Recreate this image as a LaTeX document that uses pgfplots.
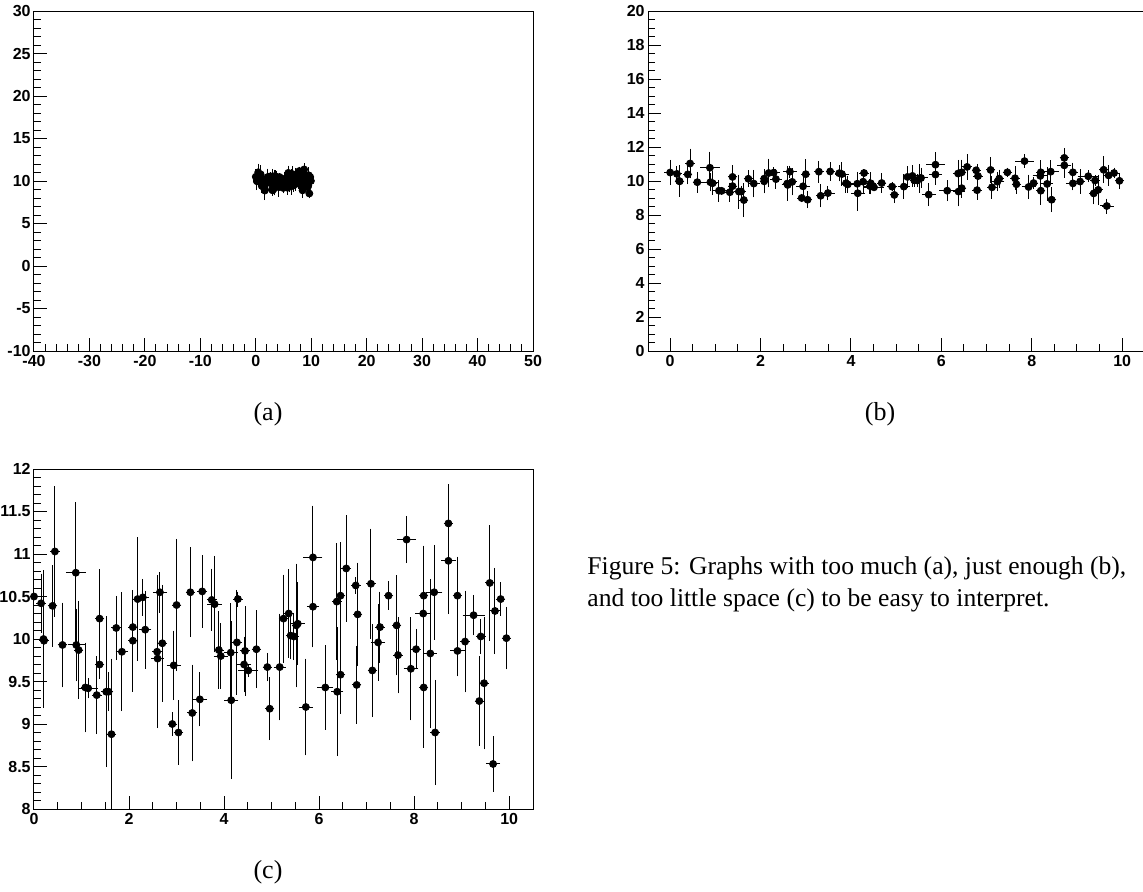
\documentclass[border=0pt]{standalone}
\usepackage{fontspec}
\setmainfont{Liberation Serif}
\setsansfont{Liberation Sans}
\usepackage{pgfplots}
\usepackage{pgfplotstable}
\pgfplotsset{compat=1.18}

\pgfplotstableread{
x y ex ey
0.00 10.50 0.08 0.60
0.15 10.42 0.05 0.32
0.20 10.00 0.05 0.78
0.21 9.98 0.05 0.30
0.39 10.39 0.05 0.45
0.44 11.03 0.05 0.74
0.60 9.93 0.05 0.47
0.88 10.78 0.16 0.80
0.89 9.93 0.13 0.40
0.94 9.87 0.05 0.55
1.08 9.43 0.05 0.50
1.14 9.42 0.15 0.09
1.32 9.34 0.05 0.43
1.38 10.24 0.05 0.55
1.38 9.70 0.05 0.14
1.52 9.38 0.05 0.86
1.57 9.38 0.05 0.20
1.63 8.88 0.05 0.86
1.73 10.13 0.05 0.35
1.85 9.85 0.08 0.67
2.08 10.14 0.05 0.38
2.08 9.98 0.05 0.57
2.18 10.47 0.05 0.70
2.29 10.49 0.08 0.19
2.34 10.11 0.08 0.43
2.59 9.85 0.05 0.87
2.60 9.77 0.08 0.05
2.65 10.55 0.10 0.21
2.70 9.95 0.05 0.66
2.91 9.00 0.05 0.11
2.94 9.69 0.10 0.38
3.00 10.40 0.05 0.75
3.04 8.90 0.05 0.35
3.29 10.55 0.05 0.50
3.33 9.13 0.05 0.54
3.49 9.29 0.10 0.29
3.54 10.56 0.05 0.40
3.74 10.46 0.05 0.34
3.80 10.41 0.10 0.54
3.89 9.87 0.05 0.43
3.93 9.80 0.10 0.36
4.14 9.84 0.10 0.55
4.15 9.28 0.10 0.90
4.27 9.96 0.05 0.59
4.29 10.47 0.05 0.06
4.42 9.70 0.10 0.30
4.44 9.86 0.05 0.50
4.51 9.63 0.16 0.05
4.68 9.88 0.05 0.43
4.91 9.67 0.05 0.14
4.96 9.18 0.05 0.34
5.17 9.67 0.08 0.60
5.25 10.24 0.05 0.49
5.36 10.30 0.05 0.49
5.40 10.04 0.05 0.25
5.47 10.03 0.05 0.25
5.52 10.16 0.05 0.70
5.55 10.18 0.10 0.46
5.72 9.20 0.10 0.54
5.87 10.96 0.15 0.58
5.87 10.38 0.08 0.45
6.13 9.43 0.12 0.47
6.37 10.44 0.05 0.66
6.38 9.38 0.08 0.73
6.45 10.51 0.05 0.60
6.45 9.58 0.05 0.43
6.57 10.83 0.05 0.60
6.77 10.63 0.05 0.07
6.81 10.29 0.05 0.58
6.79 9.46 0.05 0.43
7.09 10.65 0.05 0.62
7.12 9.63 0.05 0.52
7.24 9.96 0.10 0.42
7.28 10.14 0.05 0.39
7.46 10.51 0.05 0.14
7.63 10.16 0.05 0.56
7.66 9.81 0.05 0.42
7.84 11.17 0.15 0.25
7.93 9.65 0.10 0.58
8.04 9.88 0.05 0.21
8.19 10.30 0.12 0.05
8.20 10.51 0.05 0.56
8.20 9.43 0.05 0.68
8.34 9.83 0.08 0.85
8.42 10.55 0.12 0.53
8.44 8.90 0.05 0.59
8.72 11.36 0.05 0.43
8.72 10.92 0.10 0.60
8.91 10.51 0.05 0.43
8.91 9.86 0.10 0.27
9.07 9.97 0.05 0.57
9.25 10.28 0.18 0.21
9.37 9.27 0.05 0.50
9.40 10.03 0.05 0.18
9.47 9.48 0.05 0.75
9.59 10.66 0.05 0.65
9.66 8.53 0.10 0.30
9.70 10.33 0.05 0.48
9.82 10.47 0.05 0.17
9.94 10.01 0.05 0.34
}\graphdata

\pgfplotsset{
  rootaxis/.style={
    scale only axis,
    width=249.5pt, height=170pt,
    anchor=north west,
    axis line style={black, line width=0.5pt},
    tick pos=left,
    tick align=inside,
    major tick length=6.5pt,
    minor tick length=3.5pt,
    every tick/.style={black, line width=0.5pt},
    tick label style={font=\sffamily\bfseries\fontsize{8}{9}\selectfont},
    /pgf/number format/assume math mode=true,
    yticklabel style={inner xsep=1.5pt},
    xticklabel style={inner ysep=2pt},
  },
  rootplot/.style={
    only marks, mark=*, mark size=1.75pt, black,
    error bars/.cd, x dir=both, x explicit, y dir=both, y explicit,
    error bar style={line width=0.5pt, black},
    error mark options={black, mark size=1.2pt, line width=0.5pt},
  },
}

\begin{document}
\begin{tikzpicture}
\useasboundingbox (0,0) rectangle (571.5pt,-445.5pt);

% (a)
\begin{axis}[rootaxis, at={(17pt,-5.5pt)},
  xmin=-40, xmax=50, ymin=-10, ymax=30,
  xtick={-40,-30,...,50}, ytick={-10,-5,...,30},
  minor x tick num=4, minor y tick num=4]
\addplot[rootplot] table[x=x, y=y, x error=ex, y error=ey] {\graphdata};
\end{axis}

% (b)
\begin{axis}[rootaxis, at={(324pt,-5.5pt)},
  xmin=-0.49, xmax=10.55, ymin=0, ymax=20,
  xtick={0,2,...,10}, ytick={0,2,...,20},
  minor x tick num=3, minor y tick num=3]
\addplot[rootplot] table[x=x, y=y, x error=ex, y error=ey] {\graphdata};
\end{axis}

% (c)
\begin{axis}[rootaxis, at={(17pt,-234.5pt)},
  xmin=0, xmax=10.5, ymin=8, ymax=12,
  xtick={0,2,...,10}, ytick={8,8.5,...,12},
  minor x tick num=3, minor y tick num=4]
\addplot[rootplot] table[x=x, y=y, x error=ex, y error=ey] {\graphdata};
\end{axis}

\node[font=\fontsize{13}{16}\selectfont, inner sep=0pt] at (134pt,-207pt) {(a)};
\node[font=\fontsize{13}{16}\selectfont, inner sep=0pt] at (440pt,-207pt) {(b)};
\node[font=\fontsize{13}{16}\selectfont, inner sep=0pt] at (134pt,-436pt) {(c)};
\node[anchor=west, align=left, inner sep=0pt, font=\fontsize{12.8}{16}\selectfont]
  at (293.5pt,-292pt) {Figure 5: Graphs with too much (a), just enough (b),\\ and too little space (c) to be easy to interpret.};
\end{tikzpicture}
\end{document}
